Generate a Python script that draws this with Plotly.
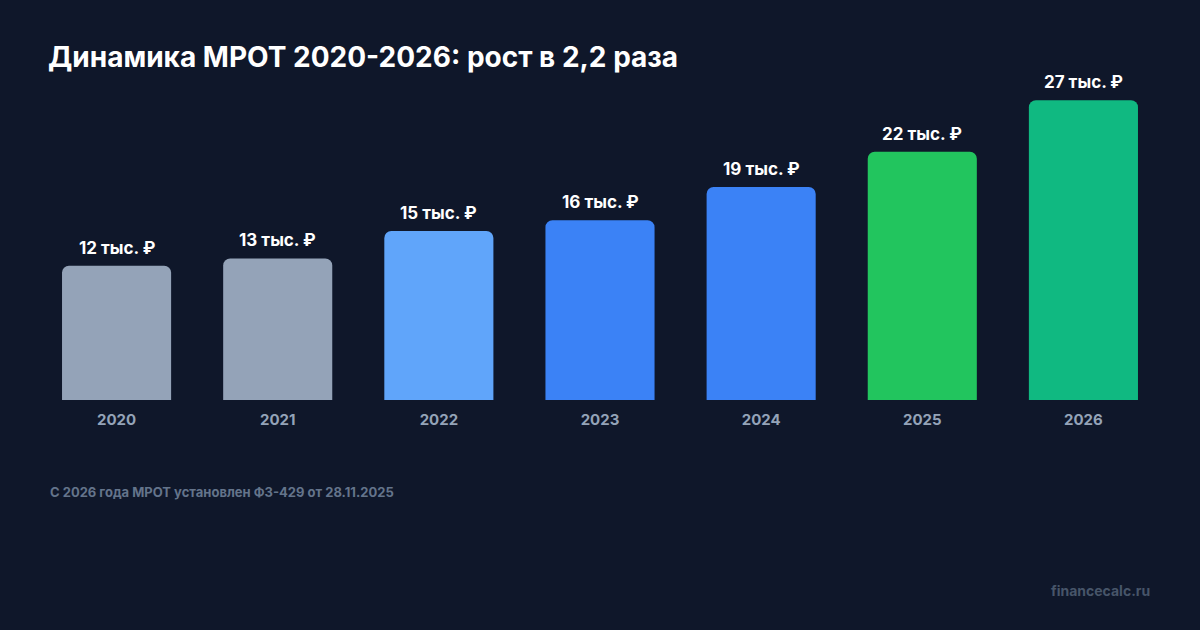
import plotly.graph_objects as go

years = ["2020", "2021", "2022", "2023", "2024", "2025", "2026"]
values = [12130, 12792, 15279, 16242, 19242, 22440, 27093]
labels = ["12 тыс. ₽", "13 тыс. ₽", "15 тыс. ₽", "16 тыс. ₽", "19 тыс. ₽", "22 тыс. ₽", "27 тыс. ₽"]
colors = ["#94a3b8", "#94a3b8", "#60a5fa", "#3b82f6", "#3b82f6", "#22c55e", "#10b981"]

BG = "#0f172a"
FONT = "Inter, Roboto, sans-serif"

fig = go.Figure()
fig.add_trace(go.Bar(
    x=years, y=values, marker=dict(color=colors, line=dict(width=0)),
    hoverinfo="skip",
))

for i, (v, t) in enumerate(zip(values, labels)):
    fig.add_annotation(x=i, y=v, text=f"<b>{t}</b>", showarrow=False,
                       yanchor="bottom", yshift=6,
                       font=dict(family=FONT, size=17, color="#ffffff"))

fig.update_layout(
    width=1200, height=630,
    paper_bgcolor=BG, plot_bgcolor=BG,
    margin=dict(l=36, r=36, t=68, b=230),
    barcornerradius=7,
    bargap=0.323,
    showlegend=False,
    font=dict(family=FONT),
    title=dict(text="<b>Динамика МРОТ 2020-2026: рост в 2,2 раза</b>",
               x=48/1200, xanchor="left", xref="container", y=1-57/630, yanchor="middle",
               yref="container",
               font=dict(family=FONT, size=28, color="#ffffff")),
    xaxis=dict(type="category", range=[-0.5, len(years) - 0.5], autorange=False,
               showgrid=False, zeroline=False, showline=False, ticks="",
               tickfont=dict(family=FONT, size=15, color="#94a3b8", weight=700),
               ticklabelstandoff=9),
    yaxis=dict(range=[0, 30000], autorange=False, visible=False, showgrid=False, zeroline=False),
)

fig.add_annotation(xref="paper", yref="paper", x=(48-36)/1128, xanchor="left",
                   y=-(492-400)/332, yanchor="middle",
                   text="<b>С 2026 года МРОТ установлен ФЗ-429 от 28.11.2025</b>",
                   showarrow=False, font=dict(family=FONT, size=13, color="#64748b"))
fig.add_annotation(xref="paper", yref="paper", x=(1152-36)/1128, xanchor="right",
                   y=-(590-400)/332, yanchor="middle",
                   text="<b>financecalc.ru</b>",
                   showarrow=False, font=dict(family=FONT, size=14, color="#475569"))

fig.write_html("out.html")
